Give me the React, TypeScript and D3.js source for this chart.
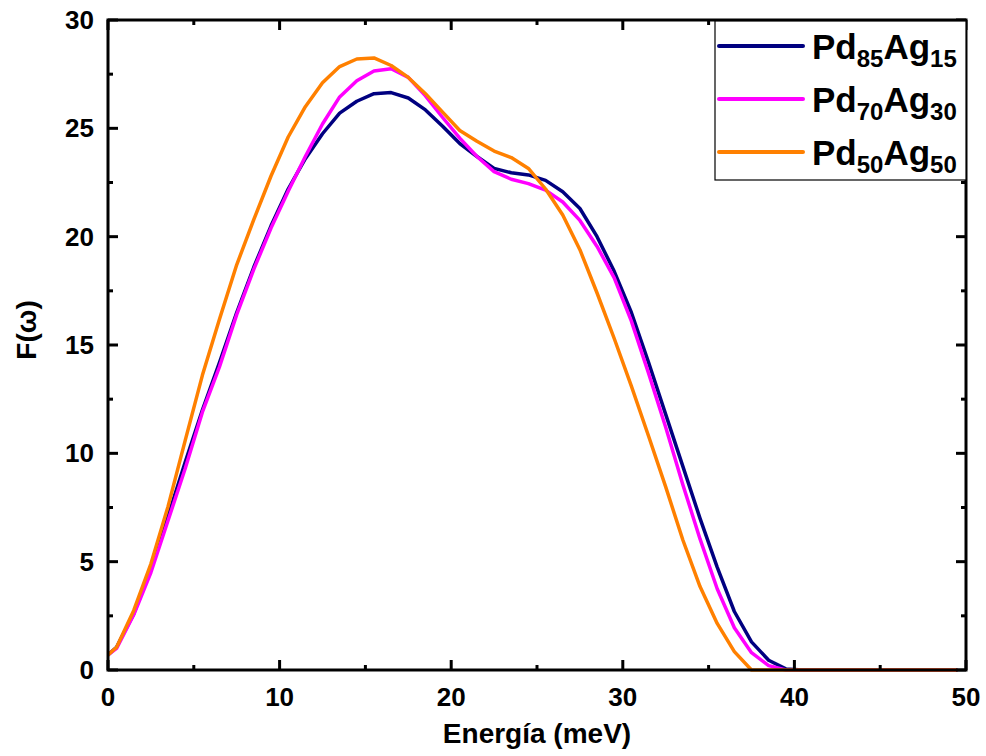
import React from "react";
import * as d3 from "d3";

const energies = [0, 0.5, 1.5, 2.5, 3.5, 4.5, 5.5, 6.5, 7.5, 8.5, 9.5, 10.5, 11.5, 12.5, 13.5, 14.5, 15.5, 16.5, 17.5, 18.5, 19.5, 20.5, 21.5, 22.5, 23.5, 24.5, 25.5, 26.5, 27.5, 28.5, 29.5, 30.5, 31.5, 32.5, 33.5, 34.5, 35.5, 36.5, 37.5, 38.5, 39.5, 40.5, 49.5];

const pd85ag15 = [0.7, 1.05, 2.6, 4.65, 7.1, 9.6, 12.0, 14.2, 16.5, 18.6, 20.5, 22.2, 23.6, 24.75, 25.7, 26.25, 26.6, 26.65, 26.4, 25.85, 25.1, 24.3, 23.7, 23.15, 22.95, 22.85, 22.6, 22.07, 21.3, 20.0, 18.4, 16.5, 14.2, 11.8, 9.4, 7.0, 4.75, 2.7, 1.3, 0.45, 0.05, 0, 0];
const pd70ag30 = [0.7, 1.0, 2.55, 4.5, 6.9, 9.3, 11.9, 14.0, 16.4, 18.5, 20.4, 22.1, 23.7, 25.2, 26.45, 27.2, 27.65, 27.75, 27.35, 26.5, 25.5, 24.55, 23.7, 23.0, 22.65, 22.45, 22.15, 21.6, 20.75, 19.55, 18.1, 16.1, 13.7, 11.2, 8.55, 6.05, 3.75, 1.95, 0.8, 0.2, 0, 0, 0];
const pd50ag50 = [0.7, 1.05, 2.75, 4.9, 7.55, 10.6, 13.6, 16.2, 18.7, 20.8, 22.8, 24.6, 26.0, 27.1, 27.85, 28.2, 28.25, 27.9, 27.35, 26.6, 25.75, 24.9, 24.4, 23.95, 23.65, 23.15, 22.2, 21.0, 19.4, 17.4, 15.3, 13.1, 10.8, 8.45, 6.0, 3.85, 2.15, 0.85, 0, 0, 0, 0, 0];

const seriesNames = [
  { main1: "Pd", sub1: "85", main2: "Ag", sub2: "15" },
  { main1: "Pd", sub1: "70", main2: "Ag", sub2: "30" },
  { main1: "Pd", sub1: "50", main2: "Ag", sub2: "50" },
];
const seriesValues = [pd85ag15, pd70ag30, pd50ag50];
const seriesColors = ["#000080", "#ff00ff", "#ff8000"];

const xMajorTicks = [0, 10, 20, 30, 40, 50];
const xMinorTicks = [5, 15, 25, 35, 45];
const yMajorTicks = [0, 5, 10, 15, 20, 25, 30];
const yMinorTicks = [2.5, 7.5, 12.5, 17.5, 22.5, 27.5];

const xTitle = "Energía (meV)";
const yTitle = "F(ω)";

export default function App() {
  const W = 986, H = 756;
  const left = 108, right = 966, top = 20, bottom = 670;
  const x = d3.scaleLinear().domain([0, 50]).range([left, right]);
  const y = d3.scaleLinear().domain([0, 30]).range([bottom, top]);
  const line = d3.line<number>().x((_, i) => x(energies[i])).y((v) => y(v));
  const font = "'Liberation Sans', Arial, sans-serif";
  const majorLen = 10, minorLen = 5, tw = 3;

  const legendX = 715, legendY = 21, legendW = 251, legendH = 159;
  const legendRows = [46, 99, 152];

  return (
    <div style={{ position: "absolute", left: 0, top: 0 }}>
      <svg width={W} height={H} style={{ display: "block", background: "#fff" }}>
        <rect x={0} y={0} width={W} height={H} fill="#fff" />
        {seriesValues.map((vals, i) => (
          <path key={i} d={line(vals) || ""} fill="none" stroke={seriesColors[i]} strokeWidth={3.5} strokeLinejoin="round" />
        ))}
        <g stroke="#000" strokeWidth={tw}>
          {xMajorTicks.map((t) => (
            <g key={"xm" + t}>
              <line x1={x(t)} x2={x(t)} y1={bottom} y2={bottom - majorLen} />
              <line x1={x(t)} x2={x(t)} y1={top} y2={top + majorLen} />
            </g>
          ))}
          {xMinorTicks.map((t) => (
            <g key={"xn" + t}>
              <line x1={x(t)} x2={x(t)} y1={bottom} y2={bottom - minorLen} />
              <line x1={x(t)} x2={x(t)} y1={top} y2={top + minorLen} />
            </g>
          ))}
          {yMajorTicks.map((t) => (
            <g key={"ym" + t}>
              <line y1={y(t)} y2={y(t)} x1={left} x2={left + majorLen} />
              <line y1={y(t)} y2={y(t)} x1={right} x2={right - majorLen} />
            </g>
          ))}
          {yMinorTicks.map((t) => (
            <g key={"yn" + t}>
              <line y1={y(t)} y2={y(t)} x1={left} x2={left + minorLen} />
              <line y1={y(t)} y2={y(t)} x1={right} x2={right - minorLen} />
            </g>
          ))}
        </g>
        <rect x={left} y={top} width={right - left} height={bottom - top} fill="none" stroke="#000" strokeWidth={3} />
        <g fontFamily={font} fontWeight="bold" fontSize={26} fill="#000">
          {xMajorTicks.map((t) => (
            <text key={"xl" + t} x={x(t)} y={706} textAnchor="middle">{t}</text>
          ))}
          {yMajorTicks.map((t) => (
            <text key={"yl" + t} x={94} y={y(t) + 9} textAnchor="end">{t}</text>
          ))}
        </g>
        <text x={(left + right) / 2} y={743} textAnchor="middle" fontFamily={font} fontWeight="bold" fontSize={28}>{xTitle}</text>
        <text transform={`translate(36, 330) rotate(-90)`} textAnchor="middle" fontFamily={font} fontWeight="bold" fontSize={28}>{yTitle}</text>
        <rect x={legendX} y={legendY} width={legendW} height={legendH} fill="#fff" stroke="#000" strokeWidth={1.2} />
        {seriesNames.map((n, i) => (
          <g key={"lg" + i}>
            <line x1={719} x2={803} y1={legendRows[i]} y2={legendRows[i]} stroke={seriesColors[i]} strokeWidth={4} strokeLinecap="round" />
            <text x={812} y={legendRows[i] + 13} fontFamily={font} fontWeight="bold" fontSize={35}>
              <tspan>{n.main1}</tspan>
              <tspan fontSize={24} dy={8}>{n.sub1}</tspan>
              <tspan dy={-8}>{n.main2}</tspan>
              <tspan fontSize={24} dy={8}>{n.sub2}</tspan>
            </text>
          </g>
        ))}
      </svg>
    </div>
  );
}
